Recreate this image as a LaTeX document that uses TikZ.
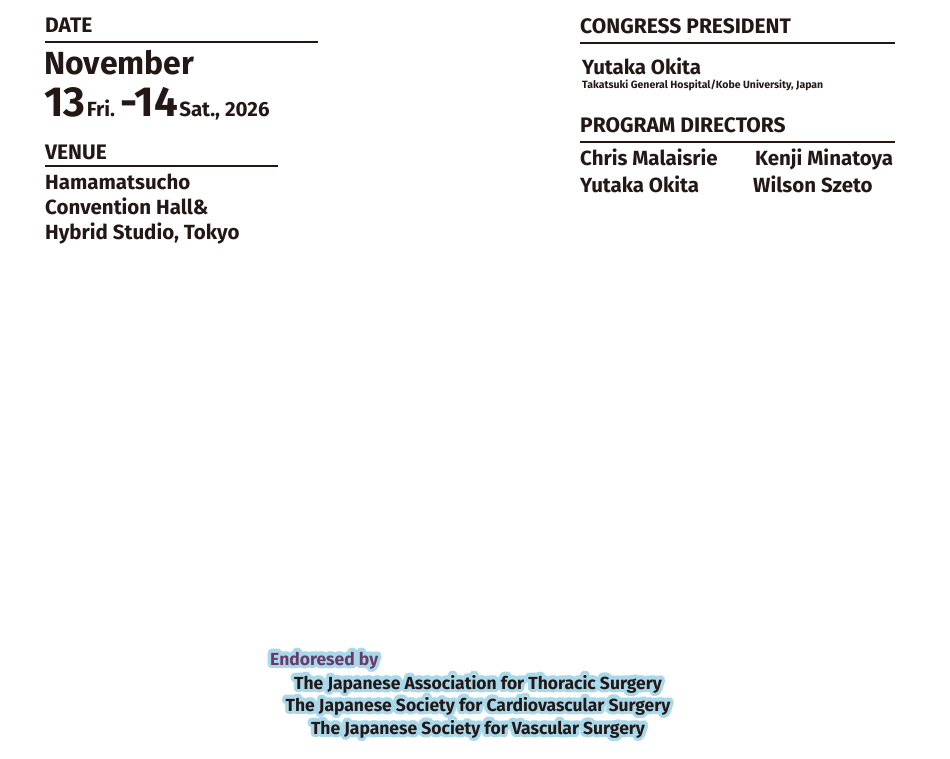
\documentclass[tikz,border=0pt]{standalone}
\usepackage{fontspec}
\setmainfont{Fira Sans}
\definecolor{ink}{HTML}{231815}
\definecolor{purp}{HTML}{6A3B6A}
\definecolor{glow}{HTML}{A8D8EA}
\begin{document}
\begin{tikzpicture}[x=1pt,y=-1pt,
  every node/.style={inner sep=0pt,text=ink},
  head/.style={anchor=base west,font=\bfseries\fontsize{21}{24}\selectfont},
  body/.style={anchor=base west,font=\bfseries\fontsize{20.5}{24}\selectfont},
  rule/.style={ink,line width=1.2pt},
  endf/.style={font=\bfseries\fontsize{17.5}{20}\selectfont}]
\useasboundingbox[fill=white] (0,0) rectangle (950,759);
% left
\node[head] (date) at (45,33) {DATE};
\draw[rule] (45,42) -- (318,42);
\node[body,font=\bfseries\fontsize{32}{34}\selectfont] (nov) at (44,75) {November};
\node[body,font=\bfseries\fontsize{42}{44}\selectfont] (d13) at (44,117) {13};
\node[body] (fri) at ([xshift=1pt]d13.base east) {Fri.};
\node[body,font=\bfseries\fontsize{42}{44}\selectfont] (d14) at ([xshift=5pt]fri.base east) {-14};
\node[body] (sat) at ([xshift=1pt]d14.base east) {Sat., 2026};
\node[head] (venue) at (45,160) {VENUE};
\draw[rule] (45,166) -- (278,166);
\node[body] (v1) at (45,190) {Hamamatsucho};
\node[body] (v2) at (45,215) {Convention Hall\&};
\node[body] (v3) at (45,240) {Hybrid Studio, Tokyo};
% right
\node[head] (cp) at (580,34) {CONGRESS PRESIDENT};
\draw[rule] (580,43) -- (895,43);
\node[body] (yo) at (582,75) {Yutaka Okita};
\node[anchor=base west,font=\bfseries\fontsize{10.5}{12}\selectfont] (aff) at (582,89) {Takatsuki General Hospital/Kobe University, Japan};
\node[head] (pd) at (580,133) {PROGRAM DIRECTORS};
\draw[rule] (580,142) -- (895,142);
\node[body] (n1) at (580,166) {Chris Malaisrie};
\node[body] (n2) at (755,166) {Kenji Minatoya};
\node[body] (n3) at (580,193) {Yutaka Okita};
\node[body] (n4) at (753,193) {Wilson Szeto};
% bottom with glow
\foreach \dx/\dy in {-3.5/0,3.5/0,0/-3.5,0/3.5,-2.5/-2.5,2.5/-2.5,-2.5/2.5,2.5/2.5,-1.5/-3.2,1.5/-3.2,-1.5/3.2,1.5/3.2,-3.2/-1.5,3.2/-1.5,-3.2/1.5,3.2/1.5}{
  \begin{scope}[shift={(\dx,\dy)}]
  \node[endf,anchor=base west,text=glow] at (270,665) {Endoresed by};
  \node[endf,anchor=base,text=glow] at (478,689) {The Japanese Association for Thoracic Surgery};
  \node[endf,anchor=base,text=glow] at (478,711) {The Japanese Society for Cardiovascular Surgery};
  \node[endf,anchor=base,text=glow] at (478,734) {The Japanese Society for Vascular Surgery};
  \end{scope}}
\node[endf,anchor=base west,text=purp] (en) at (270,665) {Endoresed by};
\node[endf,anchor=base] (s1) at (478,689) {The Japanese Association for Thoracic Surgery};
\node[endf,anchor=base] (s2) at (478,711) {The Japanese Society for Cardiovascular Surgery};
\node[endf,anchor=base] (s3) at (478,734) {The Japanese Society for Vascular Surgery};
\end{tikzpicture}
\end{document}
